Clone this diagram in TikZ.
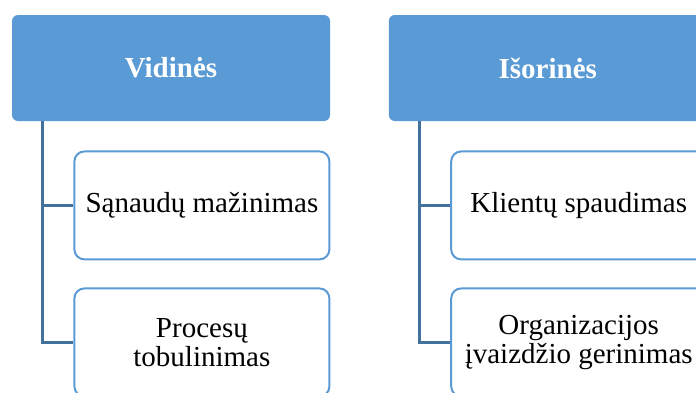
\documentclass[tikz,border=0pt]{standalone}
\usepackage{fontspec}
\setmainfont{Liberation Serif}
\usetikzlibrary{positioning}
\definecolor{headblue}{HTML}{5B9BD5}
\definecolor{linkblue}{HTML}{41719C}
\begin{document}
\begin{tikzpicture}[node distance=14.5pt,
    main node/.style={rectangle, rounded corners=3pt, fill=headblue, text=white,
      minimum width=159pt, minimum height=53pt, font=\fontsize{14.5}{14.5}\selectfont\bfseries},
    sub node/.style={rectangle, rounded corners=5pt, draw=headblue, line width=1pt, fill=white,
      minimum width=127.5pt, minimum height=54pt, align=center, font=\fontsize{14.5}{14.5}\selectfont},
    link/.style={draw=linkblue, line width=1.3pt}]
  \path[use as bounding box, clip] (0,0) rectangle (348pt,-196pt);

  \node[main node] (1) at (85.5pt,-34pt) {Vidinės};
  \node[main node] (2) [right=29pt of 1] {Išorinės};

  \node[sub node] (3) [below=14.5pt of 1.south east, anchor=north east] {Sąnaudų mažinimas};
  \node[sub node] (4) [below=13.5pt of 3] {Procesų\\tobulinimas};
  \node[sub node] (5) [below=14.5pt of 2.south east, anchor=north east] {Klientų spaudimas};
  \node[sub node] (6) [below=13.5pt of 5] {Organizacijos\\įvaizdžio gerinimas};

  \draw[link] ([xshift=15.5pt]1.south west) |- (3.west);
  \draw[link] ([xshift=15.5pt]1.south west) |- (4.west);
  \draw[link] ([xshift=15.5pt]2.south west) |- (5.west);
  \draw[link] ([xshift=15.5pt]2.south west) |- (6.west);
\end{tikzpicture}
\end{document}
